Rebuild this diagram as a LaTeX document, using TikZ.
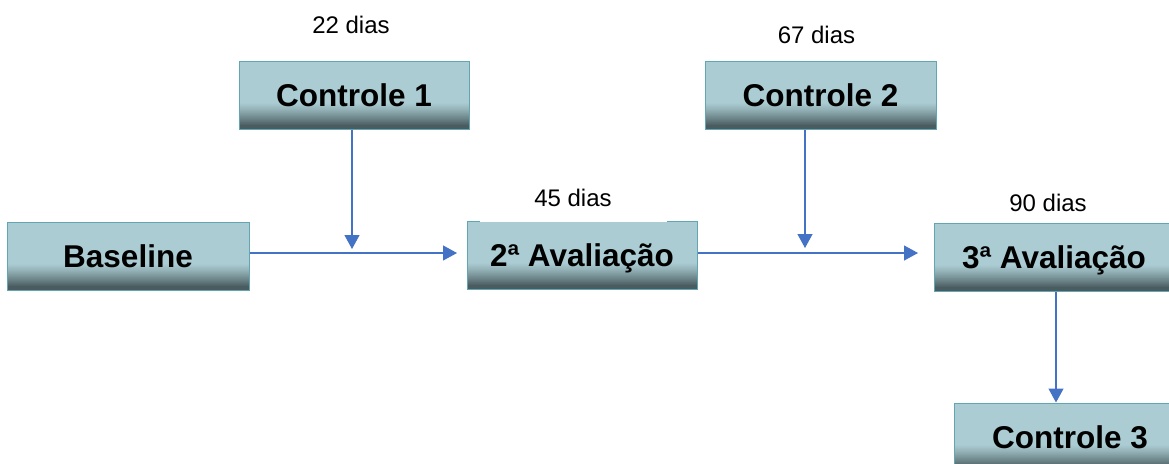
\documentclass[tikz,border=0pt]{standalone}
\usepackage{fontspec}
\setmainfont{Liberation Sans}
\usetikzlibrary{arrows.meta}
\definecolor{boxlight}{HTML}{AACCD2}
\definecolor{boxdark}{HTML}{4A5C60}
\definecolor{boxborder}{HTML}{62A6B4}
\definecolor{arrowblue}{HTML}{4472C4}
\tikzset{
  box/.style={draw=boxborder, line width=1pt, fill=boxlight, minimum height=68pt,
    inner sep=0pt, text height=23pt, text depth=0pt,
    font=\fontsize{31.5}{36}\selectfont\bfseries,
    path picture={
      \foreach \i in {0,...,25}{
        \pgfmathtruncatemacro\shadepct{min(100,100*(1-(\i-3)/23)^1.2)}
        \pgfmathsetmacro\nexty{\i+1.1}
        \fill[boxdark!\shadepct!boxlight]
          ([yshift=\i pt]path picture bounding box.south west) rectangle
          ([yshift=\nexty pt]path picture bounding box.south east);
      }
    }},
  daylabel/.style={font=\fontsize{24}{28}\selectfont, inner sep=0pt},
  conn/.style={draw=arrowblue, line width=1.2pt,
    -{Triangle[length=14pt,width=15pt]}},
}
\begin{document}
\begin{tikzpicture}[x=1pt,y=-1pt]
\useasboundingbox (0,0) rectangle (1169,463);
\clip (0,0) rectangle (1169,463);
\fill[white] (0,0) rectangle (1169,463);

\node[box, minimum width=242pt] (base) at (128,256) {Baseline};
\node[box, minimum width=230pt] (c1) at (354,95) {Controle 1};
\node[box, minimum width=230pt] (eval2) at (582,255) {2ª Avaliação};
\node[box, minimum width=231pt] (c2) at (820.5,95) {Controle 2};
\node[box, minimum width=240pt] (eval3) at (1054,257) {3ª Avaliação};
\node[box, minimum width=232pt] (c3) at (1070,437) {Controle 3};

\node[daylabel] (d22) at (351,25) {22 dias};
\node[daylabel] (d67) at (816.5,35) {67 dias};
\node[daylabel, fill=white, minimum width=187pt, minimum height=47pt] (d45) at (573,198) {45 dias};
\node[daylabel] (d90) at (1048,203) {90 dias};

\coordinate (m1) at (352,249);
\coordinate (m2) at (805,248);
\coordinate (h1) at (457,253);
\coordinate (h2) at (918,253);

\draw[conn] (base.east |- h1) -- (h1);
\draw[conn] (c1.south -| m1) -- (m1);
\draw[conn] (eval2.east |- h2) -- (h2);
\draw[conn] (c2.south -| m2) -- (m2);
\draw[conn] ([xshift=2pt]eval3.south) -- ([xshift=2pt]c3.north -| eval3.south);
\end{tikzpicture}
\end{document}
